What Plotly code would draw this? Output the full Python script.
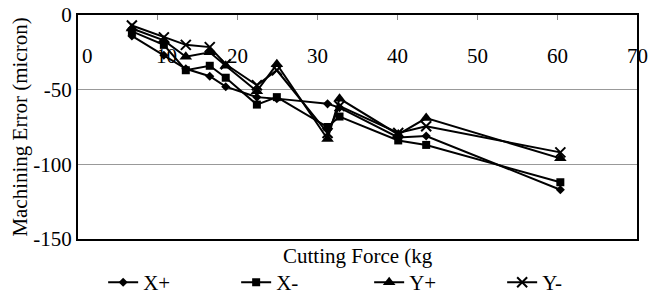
import plotly.graph_objects as go

force = [6.75, 10.75, 13.5, 16.5, 18.5, 22.4, 24.9, 31.25, 32.75, 40.1, 43.6, 60.4]
x_plus = [-14, -27, -36, -41, -48, -55, -56, -59.5, -62, -82, -81, -117]
x_minus = [-11, -20, -37, -34, -42, -60, -55, -75, -68, -84, -87, -112]
y_plus = [-9, -17, -28, -25, -34, -51, -33, -83, -56, -80, -69, -96]
y_minus = [-7, -15, -20, -21.5, -33, -47, -37, -79, -61, -79, -74.5, -92]

series_names = ["X+", "X-", "Y+", "Y-"]
x_ticks = [0, 10, 20, 30, 40, 50, 60, 70]
y_ticks = [-150, -100, -50, 0]
y_tick_labels = ["-150", "-100", "-50", "0"]

FONT = "Liberation Serif"
fig = go.Figure()

styles = [
    dict(symbol="diamond", size=7),
    dict(symbol="square", size=8),
    dict(symbol="triangle-up", size=11),
    dict(symbol="x-thin-open", size=10, line=dict(width=2, color="black")),
]
for name, vals, st in zip(series_names, [x_plus, x_minus, y_plus, y_minus], styles):
    fig.add_trace(go.Scatter(
        x=force, y=vals, name=name, mode="lines+markers",
        line=dict(color="black", width=2),
        marker=dict(color="black", **st),
    ))

# x tick labels drawn just below the top axis (axis crosses at y=0)
for v in x_ticks:
    fig.add_annotation(x=v, y=0, text=str(v), showarrow=False,
                       xref="x", yref="y", yanchor="middle", yshift=-41,
                       xshift=9 if v <= 10 else 0,
                       font=dict(family=FONT, size=21, color="black"))

fig.add_annotation(x=0.5, y=-0.076, xref="paper", yref="paper",
                   text="Cutting Force (kg", showarrow=False,
                   yanchor="middle",
                   font=dict(family=FONT, size=21, color="black"))

fig.update_layout(
    width=649, height=295,
    margin=dict(l=78, r=12, t=15, b=56, autoexpand=False),
    paper_bgcolor="white", plot_bgcolor="white",
    font=dict(family=FONT, size=21, color="black"),
    showlegend=True,
    legend=dict(orientation="h", x=0.045, xanchor="left", y=-0.103, yanchor="top",
                entrywidth=88, entrywidthmode="pixels",
                font=dict(family=FONT, size=21, color="black"),
                itemwidth=30, tracegroupgap=0),
    xaxis=dict(range=[0, 70], tickvals=x_ticks, showticklabels=False,
               side="top", ticks="inside", ticklen=5, tickcolor="#888",
               showgrid=False, zeroline=False, automargin=False,
               showline=True, linecolor="black", linewidth=2, mirror=True),
    yaxis=dict(range=[-150, 0], tickvals=y_ticks, ticktext=y_tick_labels,
               ticks="", automargin=False,
               showgrid=True, gridcolor="#999", gridwidth=1, zeroline=False,
               showline=True, linecolor="black", linewidth=2, mirror=True,
               tickfont=dict(family=FONT, size=21, color="black"),
               title=dict(text="Machining Error (micron)",
                          font=dict(family=FONT, size=21, color="black"),
                          standoff=0)),
)

fig.write_html("out.html", config={"displayModeBar": False},
               post_script="document.body.style.margin='0';document.body.style.overflow='hidden';")
